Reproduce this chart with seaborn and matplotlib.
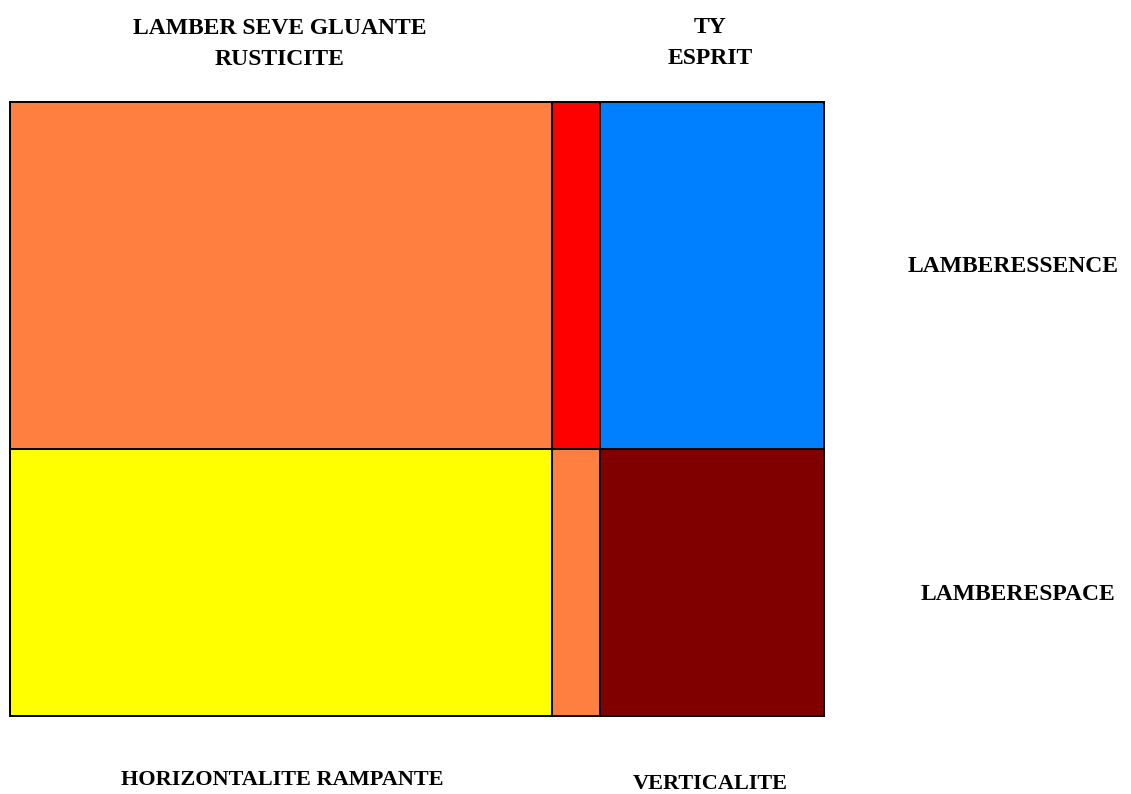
import numpy as np
import seaborn as sns
import matplotlib
matplotlib.use("Agg")
import matplotlib.pyplot as plt

# mosaic shares (columns left->right, rows bottom->top)
col_names = ["HORIZONTALITE", "TY", "VERTICALITE"]
col_widths = [0.666, 0.059, 0.275]
row_names = ["LAMBERESPACE", "LAMBERESSENCE"]
row_heights = [0.435, 0.565]
cell_colors = [
    ["#FFFF00", "#FF7F40", "#800000"],   # bottom row
    ["#FF7F40", "#FF0000", "#0080FF"],   # top row
]

sns.set_style("white")
plt.rcParams['font.family'] = ['Liberation Serif', 'DejaVu Serif']

W, H = 1131, 794
fig = plt.figure(figsize=(W / 100, H / 100), dpi=100)
ax = fig.add_axes([10 / W, (H - 716) / H, (824 - 10) / W, (716 - 102) / H])

lefts = np.concatenate([[0], np.cumsum(col_widths)[:-1]])
bottoms = np.concatenate([[0], np.cumsum(row_heights)[:-1]])
for r in range(len(row_heights)):
    bars = ax.bar(lefts, row_heights[r], width=col_widths, bottom=bottoms[r],
                  align="edge", color=cell_colors[r], edgecolor="black", linewidth=1.4)
    for b in bars:
        b.set_clip_on(False)

ax.set_xlim(0, sum(col_widths))
ax.set_ylim(0, sum(row_heights))
ax.set_axis_off()

fs = 17
def label(x, y, s, fs=fs):
    fig.text(x / W, 1 - y / H, s, ha="center", va="center", fontsize=fs,
             fontweight="bold", color="black", linespacing=1.62)

label(280, 44, "LAMBER SEVE GLUANTE\nRUSTICITE")
label(710, 43, "TY\nESPRIT")
label(1013, 267, "LAMBERESSENCE")
label(1018, 595, "LAMBERESPACE")
label(282, 780, "HORIZONTALITE RAMPANTE", 16)
label(710, 784, "VERTICALITE", 16)

fig.savefig("out.png", dpi=100)
